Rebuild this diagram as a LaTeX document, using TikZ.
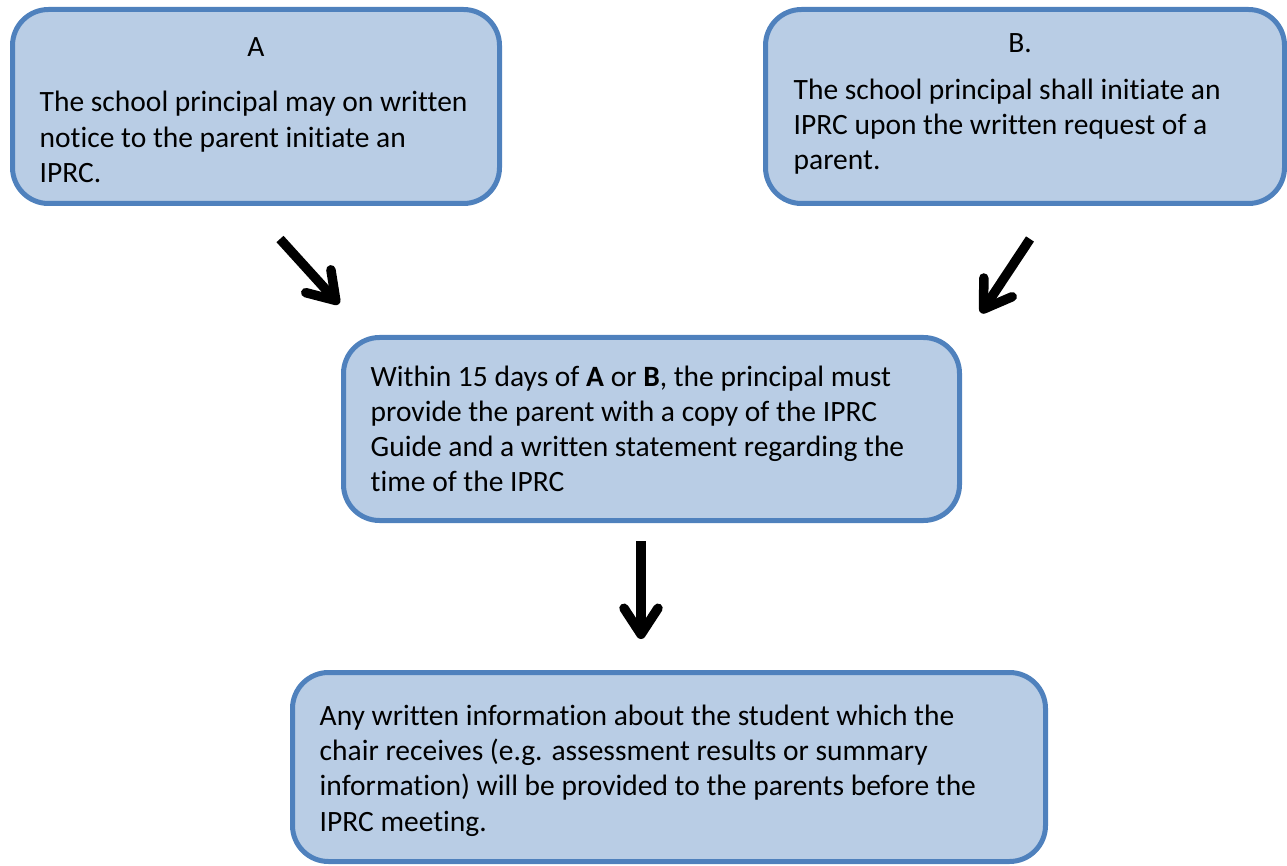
\documentclass[tikz,border=0pt]{standalone}
\usepackage{fontspec}
\setmainfont{Carlito}[Ligatures=NoCommon]
\usepackage{tikz}
\usetikzlibrary{positioning,arrows.meta}
\definecolor{boxfill}{HTML}{B9CDE5}
\definecolor{boxline}{HTML}{4F81BD}
\tikzset{
  stepbox/.style={rectangle, rounded corners=36pt, draw=boxline, fill=boxfill, line width=5pt},
  txt/.style={inner sep=0pt, align=left, font=\fontsize{29.5}{35.2}\selectfont},
  bigarrow/.style={line width=9.5pt, -{Straight Barb[length=26pt, width=34pt, round]}},
}

\begin{document}
\begin{tikzpicture}[x=1pt, y=-1pt]
  \useasboundingbox (0,0) rectangle (1287,866);

  \node[stepbox, minimum width=487pt, minimum height=194pt] (boxA) at (256,106.5) {};
  \node[stepbox, minimum width=519pt, minimum height=194pt] (boxB) at (1025,106.5) {};
  \node[stepbox, minimum width=616pt, minimum height=183pt] (boxC) at (651.5,429) {};
  \node[stepbox, minimum width=753pt, minimum height=189pt] (boxD) at (669,767) {};

  \node[txt] (titleA) at ([yshift=-40pt]boxA.north) {A};
  \node[txt] (titleB) at ([xshift=-5pt,yshift=-36pt]boxB.north) {B.};
  \node[txt, anchor=west] (txtA) at ([xshift=29.5pt,yshift=-30.5pt]boxA.west)
    {The school principal may on written\\notice to the parent initiate an\\IPRC.};
  \node[txt, anchor=west] (txtB) at ([xshift=30.5pt,yshift=-20pt]boxB.west)
    {The school principal shall initiate an\\IPRC upon the written request of a\\parent.};
  \node[txt, anchor=west] (txtC) at ([xshift=29.5pt]boxC.west)
    {Within 15 days of \textbf{A} or \textbf{B}, the principal must\\provide the parent with a copy of the IPRC\\Guide and a written statement regarding the\\time of the IPRC};
  \node[txt, anchor=west] (txtD) at ([xshift=29.5pt,yshift=-3.5pt]boxD.west)
    {Any written information about the student which the\\chair receives (e.g. assessment results or summary\\information) will be provided to the parents before the\\IPRC meeting.};

  % arrow ends
  \coordinate (fromA) at (280,239);
  \coordinate (toA) at (339,304);
  \coordinate (fromB) at (1030,239);
  \coordinate (toB) at (981,313);
  \coordinate (fromC) at (641,541);
  \coordinate (toC) at (641,639);

  \draw[bigarrow] (fromA) -- (toA);
  \draw[bigarrow] (fromB) -- (toB);
  \draw[bigarrow] (fromC) -- (toC);
\end{tikzpicture}
\end{document}
